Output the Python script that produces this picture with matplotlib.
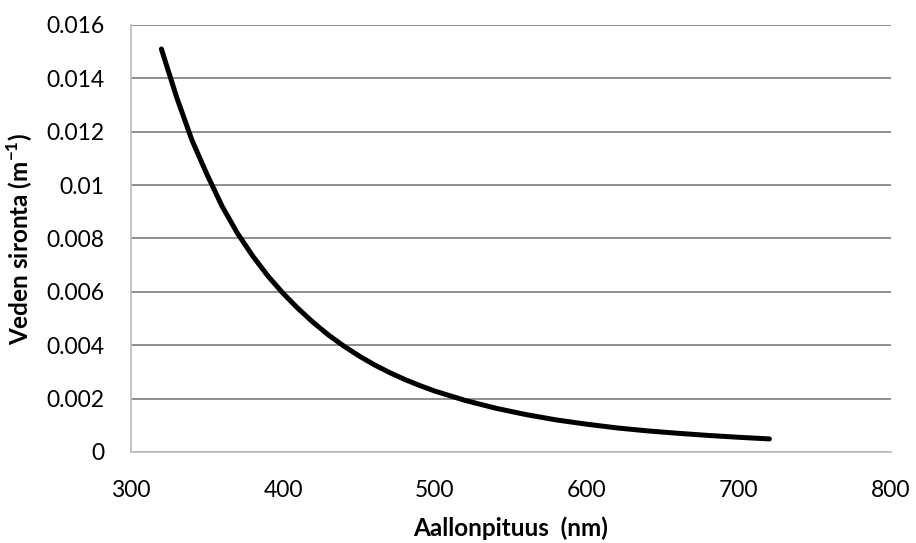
import matplotlib
matplotlib.use("Agg")
import matplotlib.pyplot as plt

# wavelength (nm) and water scattering (1/m)
wavelength = [320, 330, 340, 350, 360, 370, 380, 390, 400, 410, 420,
              430, 440, 450, 460, 470, 480, 490, 500, 520, 540, 560,
              580, 600, 620, 640, 660, 680, 700, 720]
scattering = [0.0151, 0.0133, 0.0117, 0.0104, 0.0092, 0.0082, 0.00735,
              0.0066, 0.00595, 0.00537, 0.00485, 0.00438, 0.00397,
              0.0036, 0.00327, 0.00298, 0.00272, 0.00249, 0.00228,
              0.00193, 0.00164, 0.0014, 0.0012, 0.00104, 0.0009,
              0.00079, 0.0007, 0.00062, 0.00055, 0.00049]

xticks = [300, 400, 500, 600, 700, 800]
yticks = [0, 0.002, 0.004, 0.006, 0.008, 0.01, 0.012, 0.014, 0.016]
ytick_labels = ["0", "0.002", "0.004", "0.006", "0.008", "0.01",
                "0.012", "0.014", "0.016"]

plt.rcParams['font.family'] = ['Lato', 'DejaVu Sans']
plt.rcParams['mathtext.fontset'] = 'custom'
plt.rcParams['mathtext.bf'] = 'Lato:bold'
plt.rcParams['mathtext.rm'] = 'Lato'

fig = plt.figure(figsize=(9.16, 5.43), dpi=100)
ax = fig.add_axes([0.143, 0.1676, 0.8297, 0.7864])

ax.plot(wavelength, scattering, color='black', lw=3.6,
        solid_capstyle='round', solid_joinstyle='round', zorder=3)

ax.set_xlim(300, 800)
ax.set_ylim(0, 0.016)
ax.set_xticks(xticks)
ax.set_yticks(yticks)
ax.set_yticklabels(ytick_labels)
ax.tick_params(length=0, labelsize=16.5)
ax.tick_params(axis='y', pad=19)
ax.tick_params(axis='x', pad=20)

ax.grid(axis='y', color='#868686', lw=1.3)
ax.set_axisbelow(True)
for s in ['top', 'right']:
    ax.spines[s].set_visible(False)
for s in ['left', 'bottom']:
    ax.spines[s].set_color('#bfbfbf')
    ax.spines[s].set_linewidth(1.3)

ax.set_xlabel("Aallonpituus  (nm)", fontsize=17.5, fontweight='bold')
ax.set_ylabel("Veden sironta (m$^{\\mathbf{-1}}$)", fontsize=17.5,
              fontweight='bold')
ax.xaxis.set_label_coords(0.5, -0.152)
ax.yaxis.set_label_coords(-0.126, 0.5)

fig.savefig("out.png", dpi=100)
